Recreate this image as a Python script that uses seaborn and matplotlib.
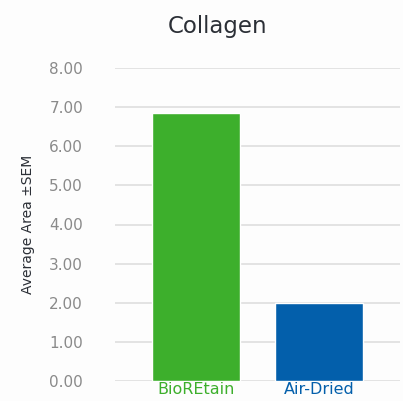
import matplotlib
matplotlib.use("Agg")
import matplotlib.pyplot as plt
import seaborn as sns
import pandas as pd

categories = ["BioREtain", "Air-Dried"]
values = [6.85, 1.99]
bar_colors = ["#3daf2c", "#035fab"]
yticks = [0, 1, 2, 3, 4, 5, 6, 7, 8]
title = "Collagen"
ylabel = "Average Area \u00b1SEM"

df = pd.DataFrame({"cat": categories, "val": values})

sns.set_theme(style="white")
plt.rcParams['font.family'] = ['DejaVu Sans']

fig = plt.figure(figsize=(4.03, 4.01), dpi=100, facecolor="#fdfdfd")
ax = fig.add_axes([115/403, 1-381/401, 285/403, 313/401])
ax.set_facecolor("#fdfdfd")

sns.barplot(data=df, x="cat", y="val", hue="cat", palette=bar_colors,
            width=0.716, legend=False, ax=ax, zorder=3, saturation=1)

ax.set_ylim(0, 8)
ax.set_xlim(-0.66, 1.66)
ax.set_yticks(yticks)
ax.set_yticklabels([f"{t:.2f}" for t in yticks], color="#8a8a8a", fontsize=11)
ax.tick_params(axis="y", length=0, pad=23)
ax.tick_params(axis="x", length=0, pad=1)
ax.yaxis.grid(True, color="#dedede", linewidth=1.2, zorder=0)
for s in ax.spines.values():
    s.set_visible(False)
ax.set_xlabel("")
ax.set_ylabel(ylabel, fontsize=10, color="#2b2f36", labelpad=10)
for lbl, c in zip(ax.get_xticklabels(), bar_colors):
    lbl.set_color(c)
    lbl.set_fontsize(11.5)

fig.text(218/403, 1-27/401, title, ha="center", va="center", fontsize=16.5, color="#2b2f36")

fig.savefig("out.png", dpi=100, facecolor=fig.get_facecolor())
